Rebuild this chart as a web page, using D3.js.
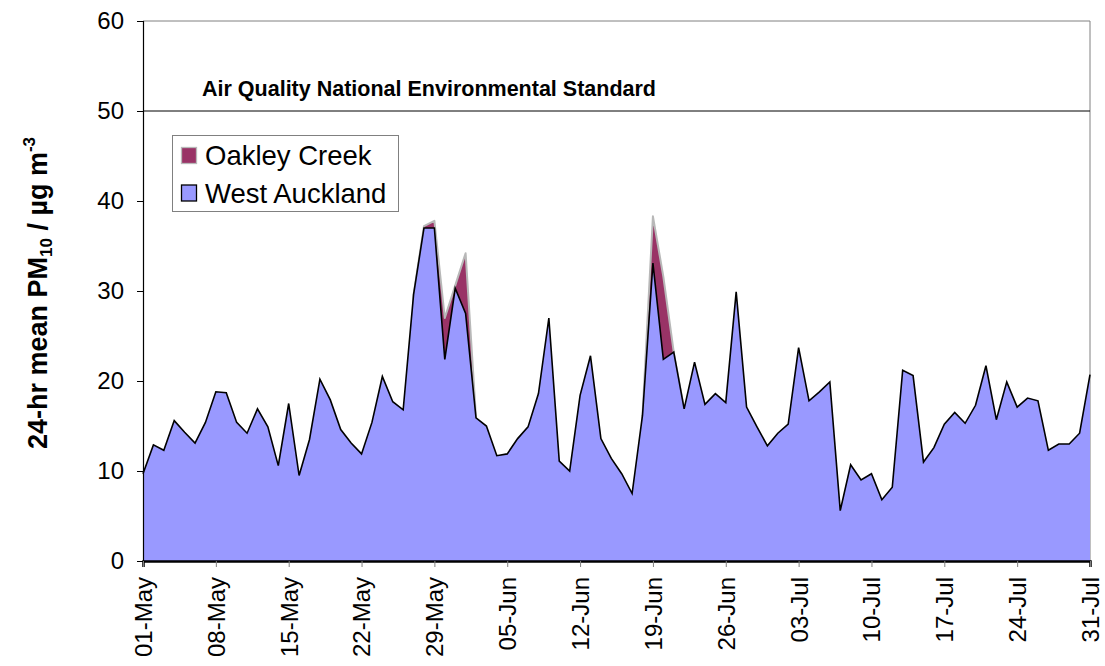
<!DOCTYPE html>
<html>
<head>
<meta charset="utf-8">
<script src="https://cdn.jsdelivr.net/npm/d3@7"></script>
<style>
  html, body { margin: 0; padding: 0; background: #fff; }
  svg { display: block; font-family: "Liberation Sans", Arial, sans-serif; }
</style>
</head>
<body>
<svg id="chart" width="1105" height="666"></svg>
<script>
// ---- Data ----
const startDate = "2005-05-01";
const westAuckland = [
  9.7, 12.9, 12.3, 15.6, 14.3, 13.1, 15.4, 18.8, 18.7, 15.4,
  14.2, 16.9, 14.9, 10.6, 17.5, 9.5, 13.5, 20.2, 17.9, 14.6,
  13.1, 11.9, 15.4, 20.5, 17.7, 16.8, 29.6, 37.0, 37.0, 22.4,
  30.3, 27.5, 15.9, 15.0, 11.7, 11.9, 13.6, 14.9, 18.6, 27.0,
  11.1, 10.0, 18.4, 22.8, 13.6, 11.4, 9.7, 7.5, 16.2, 33.1,
  22.4, 23.2, 16.9, 22.1, 17.4, 18.6, 17.6, 29.9, 17.1, 14.9,
  12.8, 14.2, 15.2, 23.7, 17.8, 18.8, 19.9, 5.6, 10.7, 9.0,
  9.7, 6.8, 8.2, 21.2, 20.6, 11.0, 12.6, 15.2, 16.5, 15.3,
  17.3, 21.7, 15.7, 19.9, 17.1, 18.1, 17.8, 12.3, 13.0, 13.0,
  14.2, 20.7
];
// Oakley Creek: only the parts that rise above West Auckland are visible
const oakleyCreek = [
  null, null, null, null, null, null, null, null, null, null,
  null, null, null, null, null, null, null, null, null, null,
  null, null, null, null, null, null, 29.6, 37.2, 37.8, 27.0,
  30.6, 34.2, 15.9, null, null, null, null, null, null, null,
  null, null, null, null, null, null, null, null, 16.2, 38.3,
  31.6, 23.2, 16.9, null, null, null, null, null, null, null,
  null, null, null, null, null, null, null, null, null, null,
  null, null, null, null, null, null, null, null, null, null,
  null, null, null, null, null, null, null, null, null, null,
  null, null
];
const xTickLabels = ["01-May","08-May","15-May","22-May","29-May","05-Jun","12-Jun",
                     "19-Jun","26-Jun","03-Jul","10-Jul","17-Jul","24-Jul","31-Jul"];
const yTicks = [0, 10, 20, 30, 40, 50, 60];
const standardValue = 50;
const standardLabel = "Air Quality National Environmental Standard";
const seriesNames = ["Oakley Creek", "West Auckland"];
const seriesColors = ["#993366", "#9999ff"];

// ---- Layout ----
const svg = d3.select("#chart");
const pLeft = 143, pRight = 1090, pTop = 21, pBottom = 561;
const FONT = "Liberation Sans, Arial, sans-serif";

const parse = d3.timeParse("%Y-%m-%d");
const d0 = parse(startDate);
const dates = westAuckland.map((_, i) => d3.timeDay.offset(d0, i));

const x = d3.scaleTime().domain([dates[0], dates[dates.length - 1]]).range([pLeft, pRight]);
const y = d3.scaleLinear().domain([0, 60]).range([pBottom, pTop]);

// plot border (top & right)
svg.append("path")
  .attr("d", `M${pLeft},${pTop}H${pRight}V${pBottom}`)
  .attr("fill", "none").attr("stroke", "#808080").attr("stroke-width", 1);

// Oakley Creek area (behind)
const oakData = oakleyCreek.map((v, i) => ({ d: dates[i], v }));
const areaO = d3.area().defined(p => p.v !== null)
  .x(p => x(p.d)).y0(y(0)).y1(p => y(p.v));
svg.append("path").datum(oakData)
  .attr("d", areaO)
  .attr("fill", seriesColors[0])
  .attr("stroke", "#b8b8b8").attr("stroke-width", 2).attr("stroke-linejoin", "round");

// West Auckland area (front)
const waData = westAuckland.map((v, i) => ({ d: dates[i], v }));
const areaW = d3.area().x(p => x(p.d)).y0(y(0)).y1(p => y(p.v));
svg.append("path").datum(waData)
  .attr("d", areaW)
  .attr("fill", seriesColors[1]).attr("stroke", "none");
svg.append("path").datum(waData)
  .attr("d", d3.line().x(p => x(p.d)).y(p => y(p.v)))
  .attr("fill", "none").attr("stroke", "#000").attr("stroke-width", 1.6)
  .attr("stroke-linejoin", "miter");

// Standard line
svg.append("line")
  .attr("x1", pLeft).attr("x2", pRight)
  .attr("y1", y(standardValue)).attr("y2", y(standardValue))
  .attr("stroke", "#000").attr("stroke-width", 1);
svg.append("text")
  .attr("x", 202).attr("y", 96)
  .attr("font-size", 21.5).attr("font-weight", "bold")
  .text(standardLabel);

// Y axis
const yAxis = d3.axisLeft(y).tickValues(yTicks).tickSize(6).tickPadding(13).tickFormat(d3.format("d"));
const gy = svg.append("g").attr("transform", `translate(${pLeft},0)`).call(yAxis);
gy.select(".domain").attr("stroke", "#000").attr("stroke-width", 1.2);
gy.selectAll(".tick line").attr("stroke", "#000");
gy.selectAll(".tick text").attr("font-size", 24).attr("fill", "#000")
  .attr("font-family", FONT);

// X axis
const tickDates = xTickLabels.map((_, i) => d3.timeDay.offset(d0, i * 7));
const xAxis = d3.axisBottom(x).tickValues(tickDates).tickSize(6)
  .tickFormat((d, i) => xTickLabels[i]);
const gx = svg.append("g").attr("transform", `translate(0,${pBottom})`).call(xAxis);
gx.select(".domain").attr("stroke", "#000").attr("stroke-width", 2.5);
gx.selectAll(".tick line").attr("stroke", "#808080");
gx.selectAll(".tick text")
  .attr("font-size", 24).attr("fill", "#000")
  .attr("font-family", FONT)
  .attr("transform", "rotate(-90)")
  .attr("text-anchor", "end")
  .attr("x", -16).attr("y", 0).attr("dy", "0.35em");

// Y axis title
const yt = svg.append("text")
  .attr("transform", "translate(47,293) rotate(-90)")
  .attr("text-anchor", "middle")
  .attr("font-size", 27).attr("font-weight", "bold");
yt.append("tspan").text("24-hr mean PM");
yt.append("tspan").attr("font-size", 17).attr("dy", 5).text("10");
yt.append("tspan").attr("dy", -5).text(" / µg m");
yt.append("tspan").attr("font-size", 17).attr("dy", -12).text("-3");

// Legend
const lg = svg.append("g");
lg.append("rect").attr("x", 172.5).attr("y", 135.5).attr("width", 226).attr("height", 76)
  .attr("fill", "#fff").attr("stroke", "#808080").attr("stroke-width", 1);
seriesNames.forEach((name, i) => {
  const yy = 147 + i * 37.5;
  lg.append("rect").attr("x", 181.5).attr("y", yy + 0.5).attr("width", 15).attr("height", 16)
    .attr("fill", seriesColors[i])
    .attr("stroke", i === 0 ? "#b8b8b8" : "#000").attr("stroke-width", 1.3);
  lg.append("text").attr("x", 205).attr("y", yy + 18)
    .attr("font-size", 27.5).text(name);
});
</script>
</body>
</html>
